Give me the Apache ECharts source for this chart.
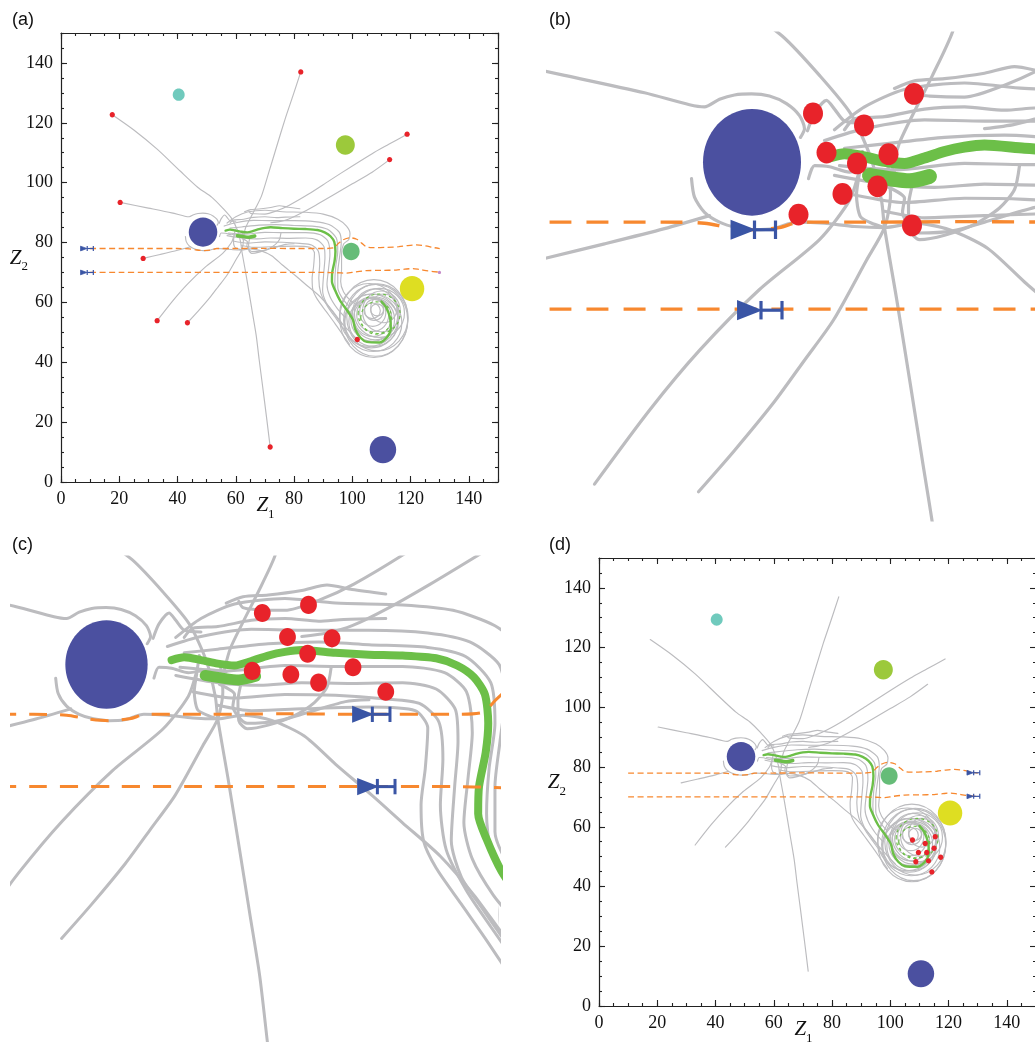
<!DOCTYPE html>
<html><head><meta charset="utf-8">
<script src="https://cdn.jsdelivr.net/npm/echarts@6/dist/echarts.min.js"></script>
<style>html,body{margin:0;padding:0;background:#fff}#c{width:1035px;height:1042px}</style>
</head><body><div id="c"></div>
<script>
// ---------------- DATA (data units, Z1 / Z2) ----------------
const AXIS_MIN = 0, AXIS_MAX = 150, MAJOR_STEP = 20, MINOR_STEP = 5;
const viewB = { x: [28.35, 77.35], y: [50.6, 95.4] };
const viewC = { x: [37.5, 95.48], y: [41.75, 95.4] };

// obstacles / sources (centres)
const diskCenters = [[48.75, 83.5], [110.5, 10.8], [40.4, 129.4], [97.6, 112.6], [99.6, 77.0], [120.5, 64.6]];

// red particles per panel
const dotsA = [[17.6,122.7],[82.3,137.0],[118.8,116.2],[112.8,107.7],[20.3,93.4],[28.2,74.7],[33.0,53.9],[43.4,53.2],[71.8,11.7],[101.7,47.6]];
const dotsB = [[54.85,88.0],[64.95,89.8],[59.95,86.9],[56.2,84.4],[59.25,83.4],[62.4,84.25],[61.3,81.3],[57.8,80.6],[53.4,78.7],[64.75,77.7]];
const dotsC = [[67.3,89.2],[72.8,90.1],[70.3,86.55],[75.6,86.4],[72.7,84.7],[66.1,82.8],[70.7,82.4],[74.0,81.5],[78.1,83.2],[82.0,80.5]];
const dotsD = [[107.6,55.6],[115.4,56.7],[111.95,54.45],[115.0,52.8],[109.65,51.4],[112.5,51.4],[117.3,49.8],[108.75,48.3],[113.1,48.6],[114.25,44.9]];

// blue emitter markers per panel
const emitA = [[6.7,78.0],[6.7,70.0]];
const emitB = [[46.7,77.3],[47.35,69.9]];
const emitC = [[78.1,78.0],[78.7,70.0]];
const emitD = [[126.3,78.1],[126.3,70.2]];
const endDot = [[129.9,70.0]];

// orange dashed boundaries
const boundaryUpper = [[10,78],[20,78],[30,78],[40,78],[44,77.9],[46.5,77.5],[49,77.3],[51.5,77.5],[53.5,78],[60,78],[70,78.05],[80,78],[90,78],[93.5,78.2],[95.1,79.6],[96.8,80.9],[99.1,81.6],[101.5,81.1],[103.2,79.8],[104.8,78.6],[107,78.3],[112,78.4],[116,78.6],[119,79],[122,79.2],[125,78.9],[128,78.3],[130,78.0]];
const boundaryLower = [[10,70],[20,70],[30,70],[40,70],[50,70],[60,70],[70,70],[80,70],[90,70],[95,69.9],[98,69.75],[101,70.2],[104.8,70.6],[110,70.7],[115,70.8],[118,71.1],[120.8,71.3],[123,71.0],[126,70.5],[130,70.1]];

// green optimal path
const pathGreen = [[56.5,84.0],[58,84.3],[60,84.0],[62,83.6],[64,83.4],[66,83.9],[68,84.5],[70,84.9],[72,85.1],[76,84.8],[80,84.6],[84,84.5],[88,84.2],[90.5,83.4],[92.5,82.1],[93.8,80.2],[94.2,77],[93.9,73.8],[93.1,70],[93,67],[94,64.2],[95.8,60.6],[98.3,57.2],[100.2,54.2],[101,51],[102.8,48.2],[105,46.8],[109.4,46.6],[112,48.4],[113.2,51.2],[112.9,55],[111.6,58.3],[110,60.3]];
const pathGreenBlob = [[60.5,82.3],[62.5,82.0],[64.5,81.8],[66.5,82.2]];
const greenLoops = [[108.2,54.8,5.3,5.4],[109.2,56.2,7.2,6.6]];

// gray trajectories
const trajG1 = [[17.6,122.7],[25,117.6],[33,111.2],[41,103.8],[47,98.4],[51.8,95.1],[55.5,91.5],[58.6,88],[60.6,84],[61.7,80],[62,77.5],[63.2,71],[64.6,63],[65.8,56],[67,49],[68,41],[69.2,32],[70.5,22],[71.8,11.7]];
const trajG2 = [[82.3,137],[79.6,129],[77,121.5],[74,112],[71.2,103],[68.8,95.5],[66.8,91.5],[65,88.2],[63.5,85.3],[62.8,83]];
const trajG3 = [[118.8,116.2],[112.5,112.8],[106.8,109.7],[100,105.6],[92,100.6],[85,96.2],[78.2,92.4],[74,90.6],[70,89.5],[66.5,89.6],[65,89.8],[64.5,90.5]];
const trajG4 = [[112.8,107.7],[106.8,103.5],[100,99.6],[93,95.6],[87.3,92.4],[82,89.6],[78,87.8],[75,87],[72,86.6]];
const trajG5 = [[20.3,93.4],[30,91.5],[38,89.9],[42.5,88.8],[44,88.6],[45.5,89.3],[47,89.7],[48.7,89.8],[50.5,89.6],[52.2,88.9],[53.5,87.8],[54,86.6],[53.6,85.8]];
const trajG6 = [[28.2,74.7],[34,76],[40,77.4],[44.5,78.6]];
const trajG7 = [[33,53.9],[38.5,60.7],[43.5,66.2],[49.5,71.8],[55.5,76.4],[58.5,80],[59.5,82.8],[59.8,84.5]];
const trajG8 = [[43.4,53.2],[47,57],[51,61.5],[54,65.3],[56.9,69],[60.2,74.5],[62,77.5],[62.6,80.5],[62.3,83.5]];
const trajG9 = [[42.7,82],[43,80.3],[44,78.9],[45.5,78],[47.2,77.5],[49,77.3],[50.9,77.4],[53.2,78],[56,77.9],[59,77.6],[62,77.5],[65,77.9],[68.5,77.3],[72.3,75.6],[76,72.5],[80.4,69],[84,66],[88.5,62.3],[92.5,58],[96.4,53.1],[99,50.3],[101.7,47.6]];
const trajCH1 = [[57,86.5],[60,88.6],[64,90.2],[70,90.8],[76,90.3],[84,90.1],[90,89.5],[95,87.8],[98,85.5],[99.2,83],[98.8,81],[97,79.5],[96.3,76],[96.3,71],[96,67],[97,63.5],[99.5,60.5],[102,59]];
const trajCH2 = [[56,85.5],[60,86.6],[66,87.4],[72,87.3],[80,87.3],[87,87],[92,86],[95.5,83.5],[96.2,80],[95.6,75],[95,70],[95,65],[96.5,61.5],[99,58.5]];
const trajCH3 = [[58,84.8],[62,85.2],[68,85.8],[74,86],[80,85.7],[87,85.4],[91.5,84.4],[94.5,81.5],[95,77],[94.3,72],[94,67],[94.5,63],[96.5,59.5],[99.5,56.5]];
const trajCH4 = [[57.5,83.2],[63,82.8],[70,83.4],[76,83.3],[84,83.3],[89,82.6],[91.6,80.5],[92.3,76],[91.8,71],[91.3,66],[92.3,62],[94.8,58],[97.5,55]];
const trajCH5 = [[57,82.3],[62,81.5],[67,81.2],[72,81.5],[78,81.4],[84,81.5],[88,80.8],[90.3,78.5],[90.6,75],[90.2,70],[89.8,64],[91,60],[93.5,56.5],[96.5,52.5]];
const trajCH6 = [[59,80.5],[64,79.8],[70,80.2],[76,80.1],[82,79.7],[86,79.2],[88.3,77.2],[88.8,73],[88.5,68],[89.2,63],[91.6,58.5],[94.5,54.5],[97.5,50.5]];
const trajCH7 = [[62,79],[66,78.4],[72,78.6],[80,78.8],[85.5,78.4],[87,76.5],[86.7,72],[86.2,68],[86.5,64],[88,61],[91,57],[94,53],[96.5,49.5],[99,46]];
const trajCH8 = [[63,90.3],[65,91],[68,91.2],[72,91.7],[75,92.3],[78,91.8],[82,91.3]];
const trajCH9 = [[58,86.5],[59,87.5],[62,87.7],[66,88.4],[70,88.6],[74,88.3],[77,88.5],[82,88.6]];
const trajEX1 = [[54.4,82.0],[55,83.2],[56.5,83.1],[58.5,82.6],[61,82.9],[63,82.7]];
const trajEX2 = [[59.5,82.5],[59.2,80.5],[59.6,78.5],[61,77.8],[62,77.5]];
const trajEX3 = [[62.2,81.3],[64,80.2],[63.8,78.9],[65.5,77.0],[68.8,77.2],[72,78],[77.2,79.4],[80,79.6]];
const trajEX6 = [[54.3,86.4],[55,88],[56.2,89.2],[57,88.4],[58,87.3],[60,87.1]];
const trajEX7 = [[64.8,81.5],[64.4,79.5],[64.5,77.3],[65.5,76.4],[68,76.8],[71,77.8],[73.5,79.3],[75,81],[75.5,83.2]];

// vortex loops: [centre Z1, centre Z2, half-width, half-height]
const vortexLoops = [[107.4,54.6,11.7,13.0],[107.2,53.2,9.8,9.6],[107.3,53.6,8.5,8.3],[107.0,54.3,7.5,7.3],[107.0,55.0,6.5,6.4],[107.0,55.9,5.5,5.6],[107.0,56.75,4.5,4.75],[107.5,57.5,3.3,3.5],[108.5,57.5,2.2,2.0],[109.3,56.5,8.6,8.2],[105.8,55.8,10.2,10.5],[110.0,57.0,6.5,6.8],[108.6,55.0,10.5,11.2],[106.5,53.8,9.2,9.0],[108.0,54.0,11.0,12.0],[107.8,56.0,7.8,8.5],[106.8,57.2,2.8,2.6],[110.8,58.0,4.5,4.8]];

// ---------------- STYLE ----------------
const GRAY = '#bcbcbf', GREEN = '#6cbf48', ORANGE = '#f7882f', RED = '#e8232a', MARK = '#3a55a5';
const diskRadius = [4.9, 4.55, 2.05, 3.25, 2.9, 4.2];
const diskColor = ['#4b50a0', '#4b50a0', '#70cabd', '#9cc93b', '#66bc78', '#dede22'];
const SERIF = '"Liberation Serif","DejaVu Serif",serif';
const PST = [
  { gray: 1.15, green: 2.4, blob: 3.5, orange: 1.3, dash: [6, 3.5], mark: 1.2, dot: 0.9 },
  { gray: 3.2, green: 11, blob: 15, orange: 3.4, dash: [22, 15], mark: 3.2, dot: 1.0 },
  { gray: 3.0, green: 8, blob: 11, orange: 3.0, dash: [18, 13], mark: 3.0, dot: 1.0 },
  { gray: 1.15, green: 2.4, blob: 3.5, orange: 1.3, dash: [6, 3.5], mark: 1.2, dot: 0.9 }
];
const grayPaths = [trajG1,trajG2,trajG3,trajG4,trajG5,trajG6,trajG7,trajG8,trajG9,trajCH1,trajCH2,trajCH3,trajCH4,trajCH5,trajCH6,trajCH7,trajCH8,trajCH9,trajEX1,trajEX2,trajEX3,trajEX6,trajEX7];

const grids = [
  { left: 61, top: 33, width: 437, height: 449 },
  { left: 548, top: 33, width: 490, height: 487 },
  { left: 12, top: 557, width: 487, height: 485 },
  { left: 599, top: 558, width: 437, height: 448 }
].map(g => Object.assign(g, { outerBoundsMode: 'none', containLabel: false }));

const xAxes = [], yAxes = [], mainX = [], mainY = [];
function nameRich() {
  return { rich: {
    z: { fontFamily: SERIF, fontStyle: 'italic', fontSize: 21, lineHeight: 26, verticalAlign: 'top', color: '#111' },
    s: { fontFamily: SERIF, fontSize: 13, lineHeight: 13, verticalAlign: 'bottom', color: '#111' } } };
}
function boxAxis(g, pos, step, len, main) {
  return {
    gridIndex: g, type: 'value', min: AXIS_MIN, max: AXIS_MAX, interval: step, position: pos,
    axisLine: { show: main, onZero: false, lineStyle: { color: '#222', width: 1.2 } },
    axisTick: { show: true, inside: true, length: len, lineStyle: { color: '#222', width: 1.1 } },
    axisLabel: { show: false },
    splitLine: { show: false }
  };
}
[0, 3].forEach(g => {
  ['bottom', 'top'].forEach(pos => {
    const maj = boxAxis(g, pos, MAJOR_STEP, 6, true);
    if (pos === 'bottom') {
      maj.axisLabel = { show: true, showMaxLabel: false, color: '#111', fontFamily: SERIF, fontSize: 18, margin: 8 };
      maj.name = '{z|Z}{s|1}'; maj.nameLocation = 'middle'; maj.nameGap = 13; maj.nameMoveOverlap = false;
      maj.nameTextStyle = Object.assign(nameRich(), { padding: [0, 28, 0, 0] });
      mainX[g] = xAxes.length;
    }
    xAxes.push(maj);
    xAxes.push(boxAxis(g, pos, MINOR_STEP, 3, false));
  });
  ['left', 'right'].forEach(pos => {
    const maj = boxAxis(g, pos, MAJOR_STEP, 6, true);
    if (pos === 'left') {
      maj.axisLabel = { show: true, showMaxLabel: false, color: '#111', fontFamily: SERIF, fontSize: 18, margin: 8 };
      maj.name = '{z|Z}{s|2}'; maj.nameLocation = 'middle'; maj.nameGap = 33; maj.nameRotate = 0; maj.nameMoveOverlap = false;
      maj.nameTextStyle = Object.assign(nameRich(), { padding: [6, 0, 0, 0] });
      mainY[g] = yAxes.length;
    }
    yAxes.push(maj);
    yAxes.push(boxAxis(g, pos, MINOR_STEP, 3, false));
  });
});
[[1, viewB], [2, viewC]].forEach(([g, v]) => {
  mainX[g] = xAxes.length;
  xAxes.push({ gridIndex: g, type: 'value', show: false, min: v.x[0], max: v.x[1], splitLine: { show: false } });
  mainY[g] = yAxes.length;
  yAxes.push({ gridIndex: g, type: 'value', show: false, min: v.y[0], max: v.y[1], splitLine: { show: false } });
});

function ellipseSeries(g, data, z, styleFn) {
  return {
    type: 'custom', xAxisIndex: mainX[g], yAxisIndex: mainY[g], clip: true, silent: true, z: z,
    data: data,
    renderItem: function (params, api) {
      const c = api.coord([api.value(0), api.value(1)]);
      const s = api.size([api.value(2), api.value(3)]);
      return { type: 'ellipse', shape: { cx: c[0], cy: c[1], rx: s[0], ry: s[1] }, style: styleFn() };
    }
  };
}
function diskSeries(g, centers, radius, color, z) {
  return {
    type: 'custom', xAxisIndex: mainX[g], yAxisIndex: mainY[g], clip: true, silent: true, z: z,
    data: centers,
    renderItem: function (params, api) {
      const c = api.coord([api.value(0), api.value(1)]);
      const s = api.size([radius, radius]);
      return { type: 'ellipse', shape: { cx: c[0], cy: c[1], rx: s[0], ry: s[1] }, style: { fill: color } };
    }
  };
}
function emitterSeries(g, data, lw) {
  return {
    type: 'custom', xAxisIndex: mainX[g], yAxisIndex: mainY[g], clip: true, silent: true, z: 9,
    data: data,
    renderItem: function (params, api) {
      const x = api.value(0), y = api.value(1);
      const a = api.coord([x, y + 0.8]), b = api.coord([x, y - 0.8]), t = api.coord([x + 2.2, y]);
      const m1 = api.coord([x + 2.3, y]), m2 = api.coord([x + 4.4, y]);
      const c1a = api.coord([x + 2.3, y + 0.85]), c1b = api.coord([x + 2.3, y - 0.85]);
      const c2a = api.coord([x + 4.4, y + 0.85]), c2b = api.coord([x + 4.4, y - 0.85]);
      const st = { stroke: MARK, lineWidth: lw };
      return { type: 'group', children: [
        { type: 'polygon', shape: { points: [a, b, t] }, style: { fill: MARK, stroke: MARK, lineWidth: lw * 0.6 } },
        { type: 'line', shape: { x1: m1[0], y1: m1[1], x2: m2[0], y2: m2[1] }, style: st },
        { type: 'line', shape: { x1: c1a[0], y1: c1a[1], x2: c1b[0], y2: c1b[1] }, style: st },
        { type: 'line', shape: { x1: c2a[0], y1: c2a[1], x2: c2b[0], y2: c2b[1] }, style: st }
      ] };
    }
  };
}
function lineSeries(g, data, color, width, z, extra) {
  return Object.assign({
    type: 'line', xAxisIndex: mainX[g], yAxisIndex: mainY[g], data: data, symbol: 'none', showSymbol: false,
    smooth: 0.25, silent: true, z: z, lineStyle: { color: color, width: width, cap: 'round', join: 'round' }
  }, extra || {});
}

const series = [];
const dotsByPanel = [dotsA, dotsB, dotsC, dotsD];
const emitByPanel = [emitA, emitB, emitC, emitD];
for (let g = 0; g < 4; g++) {
  const P = PST[g];
  grayPaths.forEach(p => series.push(lineSeries(g, p, GRAY, P.gray, 1)));
  series.push(ellipseSeries(g, vortexLoops, 1, () => ({ fill: 'none', stroke: GRAY, lineWidth: P.gray })));
  series.push(lineSeries(g, pathGreen, GREEN, P.green, 2));
  series.push(lineSeries(g, pathGreenBlob, GREEN, P.blob, 2));
  series.push(ellipseSeries(g, greenLoops, 2, () => ({ fill: 'none', stroke: GREEN, lineWidth: P.gray, lineDash: [3, 3] })));
  series.push(lineSeries(g, boundaryUpper, ORANGE, P.orange, 3, { smooth: 0.3, lineStyle: { color: ORANGE, width: P.orange, type: P.dash } }));
  series.push(lineSeries(g, boundaryLower, ORANGE, P.orange, 3, { smooth: 0.3, lineStyle: { color: ORANGE, width: P.orange, type: P.dash } }));
  diskCenters.forEach((c, i) => series.push(diskSeries(g, [c], diskRadius[i], diskColor[i], 5)));
  series.push(diskSeries(g, dotsByPanel[g], P.dot, RED, 7));
  if (g === 0) series.push(diskSeries(g, endDot, 0.55, '#c58ac8', 7));
  series.push(emitterSeries(g, emitByPanel[g], P.mark));
}

const labels = [['(a)', 12, 11], ['(b)', 549, 11], ['(c)', 12, 536], ['(d)', 549, 536]];
const chart = echarts.init(document.getElementById('c'), null, { renderer: 'canvas' });
chart.setOption({
  animation: false,
  backgroundColor: '#fff',
  grid: grids,
  xAxis: xAxes,
  yAxis: yAxes,
  series: series,
  graphic: labels.map(l => ({ type: 'text', left: l[1], top: l[2], z: 100,
    style: { text: l[0], font: '18px "Liberation Sans", Arial, sans-serif', fill: '#111' } }))
});
</script></body></html>
